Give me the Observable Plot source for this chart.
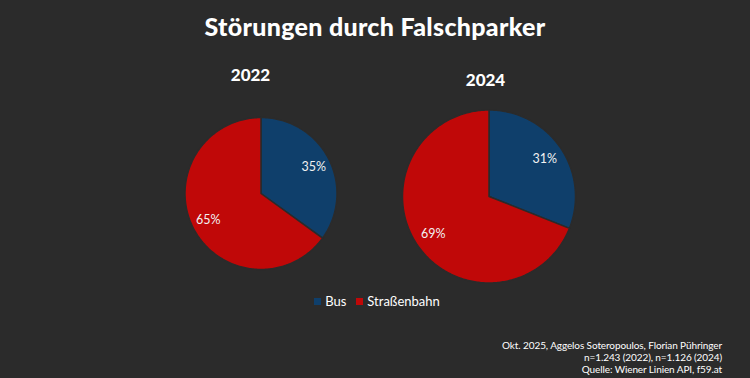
<!DOCTYPE html>
<html><head><meta charset="utf-8">
<script src="https://cdn.jsdelivr.net/npm/d3@7"></script>
<script src="https://cdn.jsdelivr.net/npm/@observablehq/plot@0.6"></script>
<style>
html,body{margin:0;padding:0;background:#2b2b2b;}
body{width:750px;height:378px;overflow:hidden;font-family:Lato,"DejaVu Sans",sans-serif;color:#fff;}
#title{height:50px;line-height:52px;text-align:center;font-weight:900;font-size:25px;letter-spacing:0.3px;}
#chart{height:240px;}
#legend{height:22px;display:flex;justify-content:center;align-items:center;font-size:13px;gap:10px;padding-left:4px;}
#legend .it{display:flex;align-items:center;gap:4px;}
#legend .sw{width:7px;height:7px;display:inline-block;}
#caption{position:absolute;right:28px;top:339px;text-align:right;font-size:10px;line-height:12px;letter-spacing:-0.1px;}
</style></head><body>
<div id="title">Störungen durch Falschparker</div>
<div id="chart"></div>
<div id="legend"></div>
<div id="caption"></div>
<script>
// ---- data ----
const years = ["2022", "2024"];
const categories = ["Bus", "Straßenbahn"];
const busShare = [35, 31];
const tramShare = [65, 69];
const colors = ["#0f3f6b", "#c00808"];
const captionLines = [
  "Okt. 2025, Aggelos Soteropoulos, Florian Pühringer",
  "n=1.243 (2022), n=1.126 (2024)",
  "Quelle: Wiener Linien API, f59.at"
];

// ---- layout (pixel constants) ----
const W = 750, H = 240, BG = "#2b2b2b";
const layout = {
  "2022": {cx: 260.5, cy: 143, r: 76, lx: 250, ly: 25},
  "2024": {cx: 488.5, cy: 146, r: 86.5, lx: 485, ly: 30}
};

const pie = d3.pie().sort(null).value(d => d.value);
const slicePts = [];
const pctLabels = [];
const yearLabels = [];
years.forEach((yr, i) => {
  const rows = categories.map((c, j) => ({category: c, value: j === 0 ? busShare[i] : tramShare[i]}));
  const L = layout[yr];
  yearLabels.push({x: L.lx, y: L.ly, text: yr});
  pie(rows).forEach(a => {
    const id = yr + "-" + a.data.category;
    const cat = a.data.category;
    slicePts.push({id, category: cat, x: L.cx, y: L.cy});
    const n = Math.max(2, Math.ceil((a.endAngle - a.startAngle) / 0.015));
    for (let k = 0; k <= n; k++) {
      const t = a.startAngle + (a.endAngle - a.startAngle) * k / n;
      slicePts.push({id, category: cat, x: L.cx + L.r * Math.sin(t), y: L.cy - L.r * Math.cos(t)});
    }
    slicePts.push({id, category: cat, x: L.cx, y: L.cy});
    const m = (a.startAngle + a.endAngle) / 2;
    pctLabels.push({x: L.cx + 0.78 * L.r * Math.sin(m), y: L.cy - 0.78 * L.r * Math.cos(m), text: a.data.value + "%"});
  });
});

const chart = Plot.plot({
  width: W, height: H, margin: 0,
  x: {domain: [0, W], range: [0, W], axis: null},
  y: {domain: [0, H], range: [0, H], axis: null},
  color: {domain: categories, range: colors},
  style: {background: "transparent", color: "#fff", fontFamily: "Lato, 'DejaVu Sans', sans-serif"},
  marks: [
    Plot.line(slicePts, {x: "x", y: "y", z: "id", fill: "category", stroke: BG, strokeWidth: 1.5, curve: "linear"}),
    Plot.text(pctLabels, {x: "x", y: "y", text: "text", fill: "#f2f2f2", fontSize: 12.5}),
    Plot.text(yearLabels, {x: "x", y: "y", text: "text", fill: "#fff", fontSize: 17, fontWeight: 900})
  ]
});
document.getElementById("chart").append(chart);

const leg = d3.select("#legend");
categories.forEach((c, i) => {
  const it = leg.append("span").attr("class", "it");
  it.append("span").attr("class", "sw").style("background", colors[i]);
  it.append("span").text(c);
});
d3.select("#caption").selectAll("div").data(captionLines).join("div").text(d => d);
</script>
</body></html>
